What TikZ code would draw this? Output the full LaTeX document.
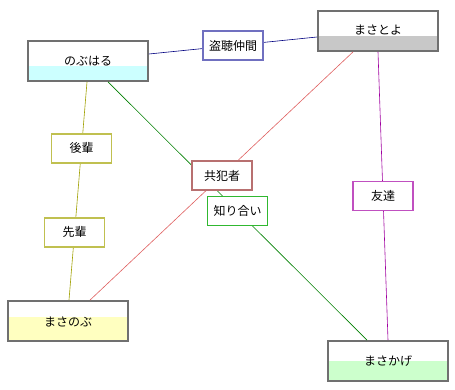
\documentclass[tikz,border=0pt]{standalone}
\usepackage{fontspec}
\newfontfamily\jp{Noto Sans CJK JP}
\usetikzlibrary{calc}
\definecolor{boxgray}{HTML}{707070}
\definecolor{cyanfill}{HTML}{CCFFFF}
\definecolor{grayfill}{HTML}{C8C8C8}
\definecolor{yellowfill}{HTML}{FFFFC0}
\definecolor{greenfill}{HTML}{CCFFCC}
\definecolor{navyline}{HTML}{000080}
\definecolor{navybox}{HTML}{7070C0}
\definecolor{redline}{HTML}{E06060}
\definecolor{redbox}{HTML}{B87070}
\definecolor{greenline}{HTML}{008000}
\definecolor{greenbox}{HTML}{30B830}
\definecolor{oliveline}{HTML}{A0A000}
\definecolor{olivebox}{HTML}{C0C050}
\definecolor{magline}{HTML}{A000A0}
\definecolor{magbox}{HTML}{C050C0}
\tikzset{
  person/.style={draw=boxgray, line width=1.8pt, minimum width=120pt, minimum height=40pt,
    inner sep=0pt, font=\jp\fontsize{12}{14}\selectfont},
  band/.style 2 args={path picture={\fill[#1] ([yshift=#2]path picture bounding box.south west) rectangle (path picture bounding box.south east);}},
  lbl/.style={draw=#1, line width=1.8pt, fill=white, minimum width=60pt, minimum height=29pt,
    inner sep=0pt, font=\jp\fontsize{12}{14}\selectfont},
  edge/.style={draw=#1, line width=0.6pt}
}
\begin{document}
\begin{tikzpicture}[x=1pt,y=-1pt]
\useasboundingbox (0,0) rectangle (455,390);
\fill[white] (0,0) rectangle (455,390);
\node[person, band={cyanfill}{15pt}] (nobu) at (88,61) {};
\node[font=\jp\fontsize{12}{14}\selectfont] (nobut) at (88,61) {のぶはる};
\node[person, band={grayfill}{15pt}] (toyo) at (378,31) {};
\node[font=\jp\fontsize{12}{14}\selectfont] (toyot) at (378,30) {まさとよ};
\node[person, band={yellowfill}{24pt}] (mnobu) at (68,321) {};
\node[font=\jp\fontsize{12}{14}\selectfont] (mnobut) at (68,322) {まさのぶ};
\node[person, band={cyanfill}{23pt}, path picture={\fill[greenfill] ([yshift=20pt]path picture bounding box.south west) rectangle (path picture bounding box.south east);}] (kage) at (388,361) {};
\node[font=\jp\fontsize{12}{14}\selectfont] (kaget) at (388,361) {まさかげ};

\draw[edge=navyline] ($(nobu.east)+(0,-7)$) -- node[lbl=navybox] (l1) {盗聴仲間} ($(toyo.west)+(0,6)$);
\draw[edge=oliveline] ($(nobu.south)+(-1,0)$) -- node[lbl=olivebox, pos=0.305] (l2) {後輩} node[lbl=olivebox, pos=0.69] (l3) {先輩} ($(mnobu.north)+(1,0)$);
\draw[edge=greenline] ($(nobu.south)+(20,0)$) -- node[lbl=greenbox, pos=0.5] (l4) {知り合い} ($(kage.north)+(-21,0)$);
\draw[edge=redline] ($(toyo.south)+(-25,0)$) -- node[lbl=redbox, pos=0.498] (l5) {共犯者} ($(mnobu.north)+(22,0)$);
\draw[edge=magline] (toyo.south) -- node[lbl=magbox] (l6) {友達} (kage.north);
\end{tikzpicture}
\end{document}
